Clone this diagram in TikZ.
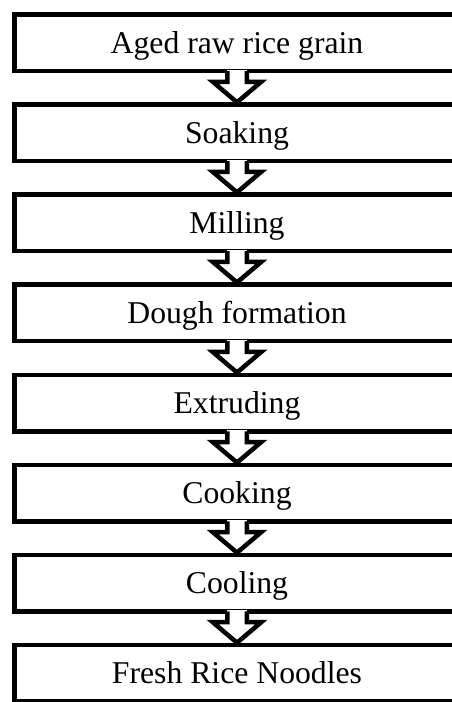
\documentclass[tikz,border=0pt]{standalone}
\usepackage{fontspec}
\setmainfont{Liberation Serif}
\usetikzlibrary{calc}
\tikzset{
  stepbox/.style={draw, line width=4.5pt, minimum width=445pt, minimum height=56.5pt,
    inner sep=0pt, text height=21pt, text depth=0pt, font=\fontsize{31.7}{38}\selectfont},
  arrowline/.style={draw, line width=4.5pt, line join=miter, miter limit=10}
}
\newcommand\blockarrow[2]{%
  \fill[white] ($(#1.south)+(-9.75,-3.5)$) rectangle ($(#1.south)+(9.75,3.5)$);
  \draw[arrowline] ($(#1.south)+(-9.75,-2.25)$) -- ($(#1.south)+(-9.75,8.5)$)
    -- ($(#1.south)+(-24.25,8.5)$) -- (#2.north)
    -- ($(#1.south)+(24.25,8.5)$) -- ($(#1.south)+(9.75,8.5)$)
    -- ($(#1.south)+(9.75,-2.25)$);
}
\begin{document}
\begin{tikzpicture}[x=1pt,y=-1pt]
  \clip (0,0) rectangle (452,702);
  \fill[white] (0,0) rectangle (452,702);
  \node[stepbox] (b1) at (237,42.75) {Aged raw rice grain};
  \node[stepbox] (b2) at (237,132.82) {Soaking};
  \node[stepbox] (b3) at (237,222.89) {Milling};
  \node[stepbox] (b4) at (237,312.96) {Dough formation};
  \node[stepbox] (b5) at (237,403.03) {Extruding};
  \node[stepbox] (b6) at (237,493.10) {Cooking};
  \node[stepbox] (b7) at (237,583.17) {Cooling};
  \node[stepbox] (b8) at (237,673.24) {Fresh Rice Noodles};
  \blockarrow{b1}{b2}
  \blockarrow{b2}{b3}
  \blockarrow{b3}{b4}
  \blockarrow{b4}{b5}
  \blockarrow{b5}{b6}
  \blockarrow{b6}{b7}
  \blockarrow{b7}{b8}
\end{tikzpicture}
\end{document}
